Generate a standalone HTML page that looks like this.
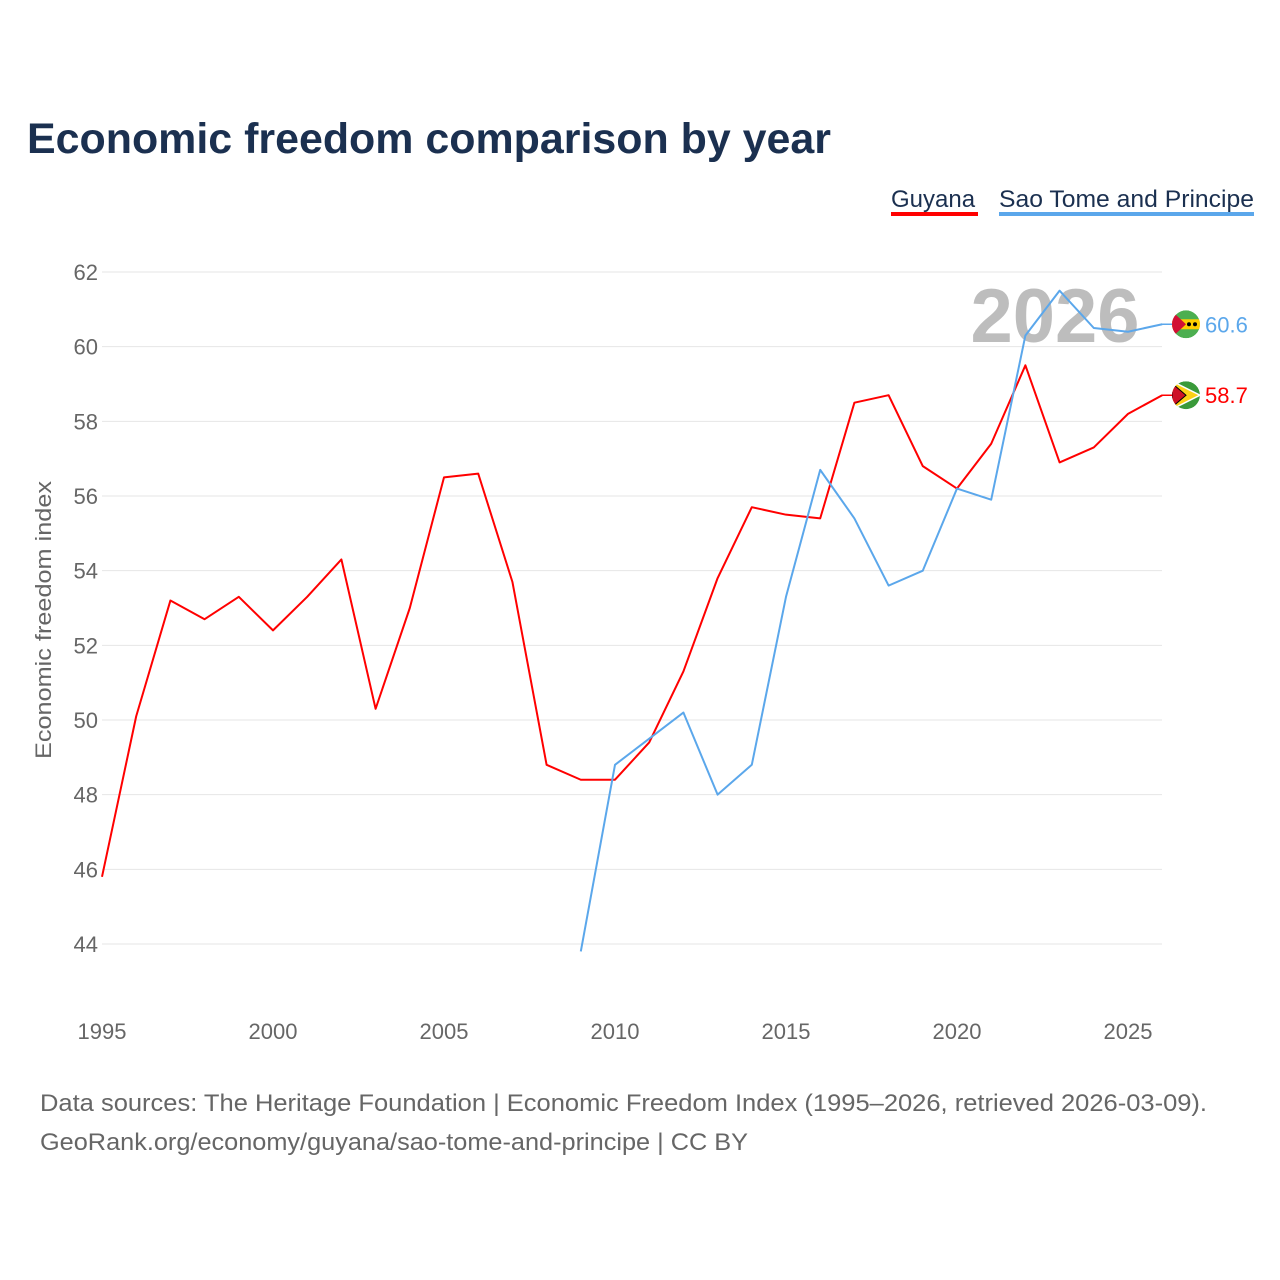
<!DOCTYPE html>
<html><head><meta charset="utf-8">
<style>
body{margin:0;background:#fff;font-family:"Liberation Sans",sans-serif;}
#wrap{position:relative;width:1280px;height:1280px;overflow:hidden;}
</style></head>
<body>
<div id="wrap">
<svg id="chart" width="1280" height="1280">
<defs>
<clipPath id="clipG"><circle cx="1186" cy="0" r="14" id="cg"/></clipPath>
<clipPath id="clipS"><circle cx="1186" cy="0" r="14" id="cs"/></clipPath>
</defs>
<text x="27" y="153" font-size="43" font-weight="bold" fill="#1b3050" textLength="804" lengthAdjust="spacingAndGlyphs">Economic freedom comparison by year</text>
<g>
<text x="891" y="207" font-size="24" fill="#1b3050">Guyana</text>
<rect x="891" y="212" width="87" height="4" fill="#ff0000"/>
<text x="999" y="207" font-size="24" fill="#1b3050" textLength="255" lengthAdjust="spacingAndGlyphs">Sao Tome and Principe</text>
<rect x="999" y="212" width="255" height="4" fill="#5ba7eb"/>
</g>
<g id="grid"></g>
<text x="1055" y="342" font-size="76" font-weight="bold" fill="#bdbdbd" text-anchor="middle">2026</text>
<text transform="translate(51,620) rotate(-90)" font-size="22" fill="#666" text-anchor="middle" textLength="278" lengthAdjust="spacingAndGlyphs">Economic freedom index</text>
<g id="series"></g>
<text x="40" y="1111" font-size="24" fill="#666" textLength="1167" lengthAdjust="spacingAndGlyphs">Data sources: The Heritage Foundation | Economic Freedom Index (1995–2026, retrieved 2026-03-09).</text>
<text x="40" y="1150" font-size="24" fill="#666" textLength="708" lengthAdjust="spacingAndGlyphs">GeoRank.org/economy/guyana/sao-tome-and-principe | CC BY</text>
</svg>
</div>
<script>
const years=[1995,1996,1997,1998,1999,2000,2001,2002,2003,2004,2005,2006,2007,2008,2009,2010,2011,2012,2013,2014,2015,2016,2017,2018,2019,2020,2021,2022,2023,2024,2025,2026];
const guyana=[45.8,50.1,53.2,52.7,53.3,52.4,53.3,54.3,50.3,53.0,56.5,56.6,53.7,48.8,48.4,48.4,49.4,51.3,53.8,55.7,55.5,55.4,58.5,58.7,56.8,56.2,57.4,59.5,56.9,57.3,58.2,58.7];
const stpYears=[2009,2010,2011,2012,2013,2014,2015,2016,2017,2018,2019,2020,2021,2022,2023,2024,2025,2026];
const stp=[43.8,48.8,49.5,50.2,48.0,48.8,53.3,56.7,55.4,53.6,54.0,56.2,55.9,60.3,61.5,60.5,60.4,60.6];
const yTicks=[44,46,48,50,52,54,56,58,60,62];
const xTicks=[1995,2000,2005,2010,2015,2020,2025];
const NS="http://www.w3.org/2000/svg";
const xS=y=>102+(y-1995)*(1128-102)/30;
const yS=v=>944-(v-44)*(944-272)/18;
function mk(tag,attrs,parent){const e=document.createElementNS(NS,tag);for(const k in attrs)e.setAttribute(k,attrs[k]);parent.appendChild(e);return e;}
const grid=document.getElementById('grid');
yTicks.forEach(t=>{
 const l=mk('line',{x1:102,x2:1162,y1:yS(t),y2:yS(t),stroke:'#e6e6e6','stroke-width':1},grid);
 
 
 const tx=mk('text',{x:98,y:yS(t)+8,'font-size':22,fill:'#666','text-anchor':'end'},grid);
 tx.textContent=t;
 
 
});
xTicks.forEach(t=>{
 const tx=mk('text',{x:xS(t),y:1039,'font-size':22,fill:'#666','text-anchor':'middle'},grid);
 tx.textContent=t;
 
 
});
const ser=document.getElementById('series');
function line(xs,vs,color,name){
 const p=mk('polyline',{points:xs.map((y,i)=>xS(y)+','+yS(vs[i])).join(' '),fill:'none',stroke:color,'stroke-width':2,'stroke-linejoin':'round'},ser);
 
 
 const ly=yS(vs[vs.length-1]);
 const c=mk('line',{x1:1162,x2:1180,y1:ly,y2:ly,stroke:color,'stroke-width':1.5},ser);
 
 
 const t=mk('text',{x:1205,y:ly+8,'font-size':22,fill:color},ser);
 t.textContent=vs[vs.length-1].toFixed(1);
 
 
 return ly;
}
const gy=line(years,guyana,'#ff0000','guyana-line');
const sy=line(stpYears,stp,'#5ba7eb','sao-tome-line');
document.getElementById('cg').setAttribute('cy',gy);
document.getElementById('cs').setAttribute('cy',sy);
const fg=mk('g',{'clip-path':'url(#clipG)'},ser);


mk('circle',{cx:1186,cy:gy,r:14,fill:'#3a9a3a'},fg);
mk('polygon',{points:`1172,${gy-14} 1200,${gy} 1172,${gy+14}`,fill:'#fcd116',stroke:'#fff','stroke-width':1.5},fg);
mk('polygon',{points:`1172,${gy-12} 1186,${gy} 1172,${gy+12}`,fill:'#ce1126',stroke:'#000','stroke-width':1},fg);
const sf=mk('g',{'clip-path':'url(#clipS)'},ser);


mk('circle',{cx:1186,cy:sy,r:14,fill:'#4caf50'},sf);
mk('rect',{x:1172,y:sy-5,width:28,height:10,fill:'#ffce00'},sf);
mk('polygon',{points:`1172,${sy-13} 1186,${sy} 1172,${sy+13}`,fill:'#d21034'},sf);
mk('circle',{cx:1189,cy:sy,r:2,fill:'#000'},sf);
mk('circle',{cx:1195,cy:sy,r:2,fill:'#000'},sf);
</script>
</body></html>
